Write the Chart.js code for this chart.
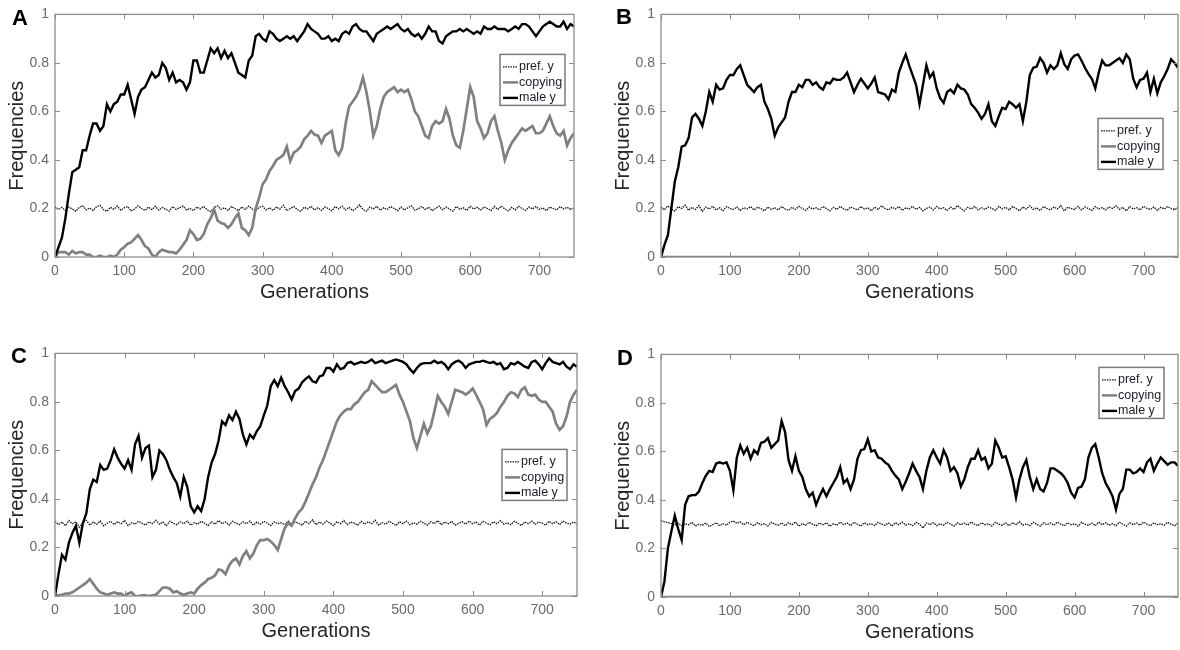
<!DOCTYPE html>
<html>
<head>
<meta charset="utf-8">
<script src="https://cdn.jsdelivr.net/npm/chart.js@4.4.1/dist/chart.umd.min.js"></script>
<style>
html,body{margin:0;padding:0;background:#fff;width:1180px;height:650px;overflow:hidden;position:relative}
canvas.panel{position:absolute}
.letter{position:absolute;font-family:"Liberation Sans",Arial,sans-serif;font-weight:bold;font-size:22px;line-height:1;color:#000}
</style>
</head>
<body>
<canvas id="cA" class="panel" style="left:0px;top:0px" width="578" height="320"></canvas>
<canvas id="cB" class="panel" style="left:606px;top:0px" width="576" height="320"></canvas>
<canvas id="cC" class="panel" style="left:0px;top:339px" width="581" height="320"></canvas>
<canvas id="cD" class="panel" style="left:606px;top:340px" width="576" height="320"></canvas>
<div class="letter" style="left:12px;top:7px">A</div>
<div class="letter" style="left:616px;top:6px">B</div>
<div class="letter" style="left:11px;top:345px">C</div>
<div class="letter" style="left:617px;top:347px">D</div>
<script>
// ---------- data ----------
const GENERATIONS = [
0,5,10,15,20,25,30,35,40,45,
50,55,60,65,70,75,80,85,90,95,
100,105,110,115,120,125,130,135,140,145,
150,155,160,165,170,175,180,185,190,195,
200,205,210,215,220,225,230,235,240,245,
250,255,260,265,270,275,280,285,290,295,
300,305,310,315,320,325,330,335,340,345,
350,355,360,365,370,375,380,385,390,395,
400,405,410,415,420,425,430,435,440,445,
450,455,460,465,470,475,480,485,490,495,
500,505,510,515,520,525,530,535,540,545,
550,555,560,565,570,575,580,585,590,595,
600,605,610,615,620,625,630,635,640,645,
650,655,660,665,670,675,680,685,690,695,
700,705,710,715,720,725,730,735,740,745,
750];
const X_TICKS = [0,100,200,300,400,500,600,700];
const Y_TICKS = [0,0.2,0.4,0.6,0.8,1];
const Y_TICK_LABELS = ['0','0.2','0.4','0.6','0.8','1'];
const SERIES_LABELS = ['pref. y','copying','male y'];

// Panel A
const A_male = [
0,0.04,0.08,0.16,0.26,0.35,0.36,0.37,0.44,0.44,
0.50,0.55,0.55,0.52,0.54,0.63,0.60,0.63,0.64,0.67,
0.67,0.71,0.65,0.59,0.66,0.69,0.70,0.73,0.76,0.74,
0.75,0.80,0.78,0.73,0.76,0.72,0.73,0.72,0.69,0.72,
0.81,0.81,0.76,0.76,0.81,0.86,0.84,0.86,0.82,0.85,
0.82,0.84,0.80,0.76,0.75,0.74,0.81,0.83,0.91,0.92,
0.90,0.89,0.93,0.92,0.90,0.89,0.90,0.91,0.90,0.91,
0.89,0.91,0.93,0.96,0.94,0.93,0.92,0.90,0.90,0.91,
0.89,0.90,0.89,0.92,0.93,0.92,0.95,0.96,0.94,0.93,
0.93,0.91,0.89,0.92,0.93,0.94,0.95,0.94,0.95,0.96,
0.94,0.93,0.94,0.92,0.91,0.92,0.90,0.92,0.95,0.93,
0.93,0.89,0.88,0.91,0.92,0.93,0.93,0.94,0.93,0.94,
0.93,0.92,0.93,0.92,0.95,0.94,0.94,0.95,0.94,0.94,
0.94,0.93,0.94,0.95,0.94,0.96,0.96,0.95,0.93,0.91,
0.93,0.95,0.96,0.97,0.96,0.95,0.95,0.97,0.94,0.96,
0.95];
const A_copying = [
0,0.02,0.02,0.02,0.01,0.025,0.015,0.02,0.02,0.01,
0.01,0,0,0.005,0,0,0.005,0,0.01,0.03,
0.04,0.055,0.06,0.075,0.09,0.07,0.045,0.035,0.01,0,
0.02,0.03,0.025,0.02,0.02,0.015,0.03,0.05,0.07,0.11,
0.095,0.07,0.075,0.095,0.135,0.16,0.195,0.15,0.14,0.135,
0.12,0.135,0.16,0.18,0.12,0.11,0.09,0.12,0.20,0.245,
0.30,0.32,0.355,0.375,0.40,0.41,0.42,0.455,0.395,0.43,
0.44,0.455,0.485,0.50,0.52,0.505,0.50,0.47,0.50,0.51,
0.52,0.44,0.42,0.45,0.55,0.62,0.64,0.66,0.69,0.74,
0.68,0.60,0.50,0.54,0.61,0.66,0.68,0.69,0.70,0.68,
0.69,0.68,0.69,0.65,0.60,0.58,0.54,0.50,0.49,0.54,
0.56,0.55,0.56,0.61,0.57,0.50,0.46,0.45,0.52,0.61,
0.70,0.66,0.56,0.53,0.49,0.51,0.56,0.58,0.52,0.47,
0.40,0.44,0.47,0.49,0.51,0.53,0.52,0.53,0.54,0.51,
0.51,0.52,0.55,0.58,0.54,0.51,0.50,0.52,0.46,0.49,
0.51];
const A_pref = [
0.207,0.196,0.205,0.191,0.206,0.198,0.189,0.204,0.211,0.194,
0.202,0.192,0.207,0.213,0.196,0.188,0.205,0.197,0.21,0.193,
0.203,0.208,0.19,0.198,0.211,0.2,0.192,0.206,0.195,0.209,
0.193,0.204,0.197,0.189,0.208,0.196,0.203,0.21,0.194,0.2,
0.191,0.206,0.198,0.208,0.194,0.187,0.204,0.211,0.196,0.203,
0.192,0.208,0.2,0.191,0.206,0.196,0.21,0.198,0.19,0.205,
0.209,0.194,0.203,0.192,0.206,0.197,0.213,0.191,0.2,0.208,
0.196,0.188,0.205,0.198,0.209,0.194,0.203,0.192,0.206,0.2,
0.19,0.208,0.198,0.21,0.194,0.205,0.191,0.2,0.214,0.196,
0.189,0.206,0.198,0.209,0.193,0.203,0.196,0.208,0.2,0.191,
0.206,0.194,0.203,0.211,0.193,0.198,0.208,0.196,0.205,0.191,
0.2,0.21,0.194,0.206,0.198,0.188,0.208,0.196,0.203,0.192,
0.209,0.198,0.205,0.194,0.206,0.2,0.191,0.208,0.196,0.21,
0.198,0.19,0.205,0.194,0.209,0.2,0.192,0.206,0.198,0.208,
0.196,0.203,0.191,0.206,0.2,0.194,0.208,0.198,0.205,0.196,
0.203];

// Panel B
const B_male = [
0,0.05,0.09,0.20,0.31,0.37,0.455,0.46,0.49,0.575,
0.59,0.57,0.54,0.60,0.68,0.64,0.71,0.69,0.695,0.73,
0.75,0.75,0.775,0.79,0.75,0.71,0.695,0.68,0.70,0.71,
0.64,0.61,0.57,0.50,0.535,0.555,0.575,0.64,0.68,0.68,
0.71,0.70,0.73,0.73,0.71,0.72,0.70,0.69,0.72,0.715,
0.735,0.73,0.73,0.74,0.76,0.72,0.68,0.71,0.735,0.715,
0.695,0.715,0.74,0.68,0.675,0.67,0.65,0.69,0.68,0.76,
0.80,0.835,0.79,0.75,0.71,0.63,0.71,0.79,0.74,0.76,
0.695,0.655,0.635,0.68,0.69,0.675,0.71,0.695,0.69,0.67,
0.63,0.615,0.595,0.57,0.59,0.63,0.56,0.54,0.58,0.615,
0.61,0.64,0.63,0.615,0.63,0.56,0.64,0.75,0.78,0.785,
0.82,0.80,0.76,0.79,0.775,0.79,0.84,0.795,0.775,0.815,
0.83,0.835,0.81,0.78,0.755,0.735,0.695,0.76,0.81,0.79,
0.79,0.80,0.81,0.82,0.80,0.835,0.815,0.735,0.70,0.73,
0.735,0.76,0.68,0.735,0.675,0.72,0.745,0.775,0.815,0.80,
0.78];
const B_copying = [
0,0,0,0,0,0,0,0,0,0,
0,0,0,0,0,0,0,0,0,0,
0,0,0,0,0,0,0,0,0,0,
0,0,0,0,0,0,0,0,0,0,
0,0,0,0,0,0,0,0,0,0,
0,0,0,0,0,0,0,0,0,0,
0,0,0,0,0,0,0,0,0,0,
0,0,0,0,0,0,0,0,0,0,
0,0,0,0,0,0,0,0,0,0,
0,0,0,0,0,0,0,0,0,0,
0,0,0,0,0,0,0,0,0,0,
0,0,0,0,0,0,0,0,0,0,
0,0,0,0,0,0,0,0,0,0,
0,0,0,0,0,0,0,0,0,0,
0,0,0,0,0,0,0,0,0,0,
0];
const B_pref = [
0.206,0.194,0.211,0.198,0.189,0.208,0.2,0.214,0.192,0.205,
0.196,0.212,0.188,0.206,0.198,0.209,0.194,0.203,0.19,0.208,
0.2,0.196,0.206,0.192,0.203,0.198,0.208,0.194,0.205,0.2,
0.19,0.206,0.196,0.203,0.194,0.208,0.198,0.192,0.205,0.196,
0.209,0.2,0.192,0.206,0.198,0.203,0.194,0.208,0.2,0.19,
0.205,0.196,0.209,0.198,0.192,0.206,0.2,0.194,0.208,0.198,
0.203,0.19,0.206,0.196,0.211,0.2,0.194,0.205,0.198,0.208,
0.192,0.203,0.198,0.209,0.196,0.205,0.19,0.2,0.206,0.194,
0.208,0.198,0.203,0.192,0.206,0.196,0.212,0.2,0.19,0.205,
0.198,0.208,0.194,0.203,0.196,0.206,0.2,0.192,0.209,0.198,
0.205,0.194,0.208,0.2,0.19,0.206,0.198,0.211,0.196,0.203,
0.192,0.208,0.2,0.194,0.206,0.198,0.212,0.19,0.205,0.2,
0.196,0.209,0.194,0.206,0.2,0.192,0.208,0.198,0.203,0.194,
0.206,0.2,0.211,0.196,0.205,0.19,0.208,0.198,0.203,0.194,
0.209,0.2,0.196,0.206,0.192,0.205,0.198,0.208,0.2,0.194,
0.205];

// Panel C
const C_male = [
0,0.09,0.17,0.15,0.22,0.26,0.29,0.22,0.30,0.34,
0.44,0.48,0.47,0.54,0.52,0.525,0.56,0.605,0.57,0.545,
0.525,0.56,0.52,0.625,0.66,0.57,0.61,0.62,0.49,0.52,
0.60,0.585,0.56,0.52,0.49,0.465,0.41,0.49,0.45,0.37,
0.345,0.37,0.35,0.40,0.49,0.55,0.585,0.64,0.72,0.705,
0.745,0.725,0.76,0.73,0.665,0.625,0.665,0.65,0.68,0.70,
0.745,0.785,0.865,0.89,0.865,0.90,0.865,0.84,0.81,0.845,
0.855,0.88,0.895,0.905,0.885,0.88,0.905,0.91,0.94,0.94,
0.925,0.955,0.935,0.94,0.96,0.965,0.955,0.96,0.965,0.96,
0.965,0.975,0.96,0.965,0.97,0.96,0.965,0.97,0.975,0.97,
0.965,0.955,0.935,0.92,0.94,0.955,0.96,0.96,0.96,0.97,
0.96,0.965,0.955,0.935,0.955,0.965,0.97,0.96,0.94,0.955,
0.96,0.965,0.965,0.97,0.965,0.96,0.965,0.955,0.96,0.935,
0.94,0.96,0.955,0.965,0.955,0.945,0.94,0.965,0.97,0.955,
0.935,0.96,0.98,0.965,0.96,0.955,0.965,0.945,0.935,0.955,
0.945];
const C_copying = [
0,0.003,0.005,0.01,0.01,0.015,0.025,0.035,0.045,0.055,
0.07,0.05,0.03,0.015,0.01,0.005,0.01,0.015,0.01,0.01,
0,0.01,0.015,0,0,0.003,0.003,0,0.003,0.005,
0.02,0.035,0.035,0.03,0.015,0.02,0.01,0.005,0.01,0.015,
0.01,0.03,0.045,0.055,0.07,0.075,0.085,0.11,0.105,0.09,
0.125,0.145,0.155,0.13,0.165,0.185,0.155,0.175,0.21,0.23,
0.23,0.235,0.225,0.21,0.19,0.235,0.28,0.30,0.29,0.32,
0.345,0.36,0.39,0.425,0.46,0.49,0.53,0.56,0.60,0.64,
0.68,0.72,0.745,0.76,0.77,0.77,0.79,0.80,0.82,0.84,
0.85,0.885,0.87,0.855,0.84,0.84,0.85,0.86,0.87,0.83,
0.80,0.76,0.72,0.65,0.61,0.66,0.71,0.67,0.70,0.76,
0.825,0.80,0.78,0.75,0.80,0.85,0.845,0.84,0.83,0.84,
0.855,0.83,0.80,0.77,0.705,0.73,0.74,0.755,0.78,0.80,
0.825,0.84,0.835,0.82,0.85,0.86,0.83,0.825,0.83,0.81,
0.80,0.80,0.78,0.76,0.71,0.685,0.70,0.74,0.80,0.83,
0.85];
const C_pref = [
0.308,0.294,0.305,0.29,0.311,0.298,0.306,0.283,0.302,0.312,
0.292,0.305,0.296,0.309,0.289,0.3,0.308,0.294,0.306,0.298,
0.311,0.29,0.302,0.296,0.308,0.3,0.292,0.306,0.298,0.312,
0.296,0.305,0.29,0.308,0.3,0.294,0.306,0.298,0.309,0.292,
0.302,0.296,0.308,0.3,0.29,0.306,0.296,0.311,0.298,0.305,
0.292,0.308,0.3,0.294,0.306,0.298,0.309,0.292,0.305,0.296,
0.308,0.3,0.29,0.306,0.298,0.302,0.294,0.309,0.296,0.305,
0.3,0.292,0.308,0.298,0.314,0.294,0.305,0.296,0.309,0.3,
0.29,0.306,0.298,0.311,0.294,0.305,0.3,0.292,0.308,0.296,
0.306,0.298,0.312,0.292,0.302,0.296,0.308,0.3,0.29,0.306,
0.298,0.309,0.294,0.302,0.296,0.308,0.3,0.292,0.306,0.298,
0.311,0.294,0.305,0.298,0.308,0.292,0.3,0.306,0.296,0.309,
0.298,0.305,0.292,0.308,0.3,0.294,0.306,0.298,0.311,0.296,
0.302,0.294,0.308,0.3,0.29,0.306,0.298,0.309,0.296,0.305,
0.3,0.292,0.308,0.298,0.306,0.294,0.309,0.3,0.296,0.305,
0.298];

// Panel D
const D_male = [
0,0.065,0.20,0.27,0.335,0.28,0.235,0.38,0.415,0.42,
0.42,0.435,0.47,0.50,0.52,0.515,0.55,0.555,0.55,0.555,
0.52,0.44,0.575,0.625,0.59,0.615,0.57,0.605,0.59,0.635,
0.64,0.655,0.615,0.63,0.645,0.725,0.68,0.565,0.52,0.58,
0.52,0.495,0.445,0.415,0.43,0.38,0.415,0.445,0.415,0.445,
0.47,0.495,0.535,0.47,0.485,0.445,0.485,0.57,0.605,0.61,
0.65,0.60,0.605,0.575,0.57,0.555,0.545,0.52,0.50,0.485,
0.445,0.475,0.51,0.55,0.52,0.495,0.445,0.52,0.575,0.605,
0.575,0.55,0.605,0.575,0.52,0.535,0.51,0.455,0.485,0.535,
0.57,0.57,0.605,0.565,0.575,0.53,0.55,0.645,0.615,0.575,
0.58,0.535,0.485,0.41,0.485,0.535,0.565,0.495,0.445,0.485,
0.445,0.435,0.47,0.53,0.53,0.52,0.51,0.495,0.47,0.43,
0.41,0.45,0.455,0.485,0.575,0.615,0.63,0.575,0.51,0.47,
0.445,0.415,0.36,0.425,0.445,0.525,0.525,0.51,0.515,0.53,
0.515,0.555,0.57,0.52,0.55,0.575,0.56,0.545,0.555,0.555,
0.54];
const D_copying = [
0,0,0,0,0,0,0,0,0,0,
0,0,0,0,0,0,0,0,0,0,
0,0,0,0,0,0,0,0,0,0,
0,0,0,0,0,0,0,0,0,0,
0,0,0,0,0,0,0,0,0,0,
0,0,0,0,0,0,0,0,0,0,
0,0,0,0,0,0,0,0,0,0,
0,0,0,0,0,0,0,0,0,0,
0,0,0,0,0,0,0,0,0,0,
0,0,0,0,0,0,0,0,0,0,
0,0,0,0,0,0,0,0,0,0,
0,0,0,0,0,0,0,0,0,0,
0,0,0,0,0,0,0,0,0,0,
0,0,0,0,0,0,0,0,0,0,
0,0,0,0,0,0,0,0,0,0,
0];
const D_pref = [
0.315,0.31,0.307,0.303,0.296,0.305,0.294,0.302,0.298,0.308,
0.292,0.3,0.296,0.305,0.29,0.298,0.306,0.294,0.302,0.296,
0.309,0.313,0.304,0.31,0.298,0.308,0.3,0.294,0.306,0.298,
0.302,0.292,0.308,0.3,0.296,0.305,0.294,0.306,0.298,0.309,
0.292,0.302,0.296,0.308,0.3,0.294,0.305,0.298,0.306,0.292,
0.302,0.296,0.309,0.298,0.305,0.294,0.308,0.3,0.292,0.306,
0.298,0.302,0.294,0.308,0.3,0.296,0.305,0.292,0.306,0.298,
0.309,0.296,0.302,0.294,0.308,0.3,0.284,0.305,0.298,0.306,
0.294,0.302,0.296,0.308,0.3,0.292,0.306,0.298,0.305,0.296,
0.309,0.3,0.294,0.306,0.298,0.302,0.292,0.308,0.3,0.296,
0.305,0.294,0.306,0.298,0.311,0.296,0.302,0.294,0.308,0.3,
0.292,0.306,0.298,0.305,0.296,0.309,0.3,0.294,0.306,0.298,
0.302,0.292,0.308,0.3,0.296,0.305,0.294,0.309,0.298,0.306,
0.296,0.302,0.294,0.308,0.3,0.292,0.306,0.298,0.305,0.296,
0.309,0.3,0.294,0.306,0.298,0.302,0.296,0.308,0.3,0.294,
0.305];

// ---------- drawing ----------
const FONT = '"Liberation Sans", Arial, Helvetica, sans-serif';
Chart.defaults.font.family = FONT;

const matlabBox = {
  id: 'matlabBox',
  afterDatasetsDraw(chart) {
    const ctx = chart.ctx, ca = chart.chartArea, xs = chart.scales.x, ys = chart.scales.y;
    ctx.save();
    ctx.strokeStyle = '#8c8c8c';
    ctx.lineWidth = 1.3;
    ctx.strokeRect(ca.left, ca.top, ca.right - ca.left, ca.bottom - ca.top);
    ctx.beginPath();
    xs.ticks.forEach(t => {
      const px = Math.round(xs.getPixelForValue(t.value)) + 0.5;
      ctx.moveTo(px, ca.bottom); ctx.lineTo(px, ca.bottom - 5);
      ctx.moveTo(px, ca.top); ctx.lineTo(px, ca.top + 5);
    });
    ys.ticks.forEach(t => {
      const py = Math.round(ys.getPixelForValue(t.value)) + 0.5;
      ctx.moveTo(ca.left, py); ctx.lineTo(ca.left + 5, py);
      ctx.moveTo(ca.right, py); ctx.lineTo(ca.right - 5, py);
    });
    ctx.lineWidth = 1;
    ctx.stroke();
    ctx.restore();
  }
};

const matlabLegend = {
  id: 'matlabLegend',
  afterDraw(chart, args, opts) {
    const ctx = chart.ctx, ca = chart.chartArea;
    const w = 65, h = 51;
    const x = ca.right - opts.right - w, y = ca.top + opts.top;
    ctx.save();
    ctx.fillStyle = '#ffffff';
    ctx.fillRect(x, y, w, h);
    ctx.strokeStyle = '#7a7a7a';
    ctx.lineWidth = 1.5;
    ctx.strokeRect(x, y, w, h);
    ctx.font = '12.5px ' + FONT;
    ctx.textBaseline = 'middle';
    ctx.textAlign = 'left';
    chart.data.datasets.forEach((ds, i) => {
      const cy = y + 12.5 + i * 15.5;
      ctx.beginPath();
      ctx.setLineDash(ds.borderDash || []);
      ctx.lineWidth = Math.min(ds.borderWidth, 2.5);
      ctx.strokeStyle = ds.borderColor;
      ctx.moveTo(x + 3, cy); ctx.lineTo(x + 18, cy);
      ctx.stroke();
      ctx.setLineDash([]);
      ctx.fillStyle = '#1c1c28';
      ctx.fillText(ds.label, x + 19, cy);
    });
    ctx.restore();
  }
};

function makePanel(id, pref, copying, male, legendRight, legendTop) {
  return new Chart(document.getElementById(id), {
    type: 'line',
    data: {
      labels: GENERATIONS,
      datasets: [
        { label: SERIES_LABELS[0], data: pref, borderColor: '#141414', borderWidth: 1.3, borderDash: [1.5, 1], pointRadius: 0, order: 2, tension: 0 },
        { label: SERIES_LABELS[1], data: copying, borderColor: '#808080', borderWidth: 2.7, pointRadius: 0, order: 1, tension: 0 },
        { label: SERIES_LABELS[2], data: male, borderColor: '#000000', borderWidth: 2.4, pointRadius: 0, order: 0, tension: 0 }
      ]
    },
    options: {
      responsive: false,
      animation: false,
      devicePixelRatio: 1,
      layout: { padding: { left: 0, top: 8, right: 4, bottom: 0 } },
      plugins: {
        legend: { display: false },
        tooltip: { enabled: false },
        matlabLegend: { right: legendRight, top: legendTop }
      },
      scales: {
        x: {
          type: 'linear', min: 0, max: 750,
          afterFit(s) { s.height = 63; },
          afterBuildTicks(s) { s.ticks = X_TICKS.map(v => ({ value: v })); },
          ticks: { stepSize: 100, padding: 6, color: '#6a6a6a', font: { size: 14 }, maxRotation: 0, autoSkip: false,
                   callback: (v) => String(v) },
          grid: { display: false, drawTicks: false },
          border: { display: false },
          title: { display: true, text: 'Generations', color: '#262626', font: { size: 20 }, padding: { top: 0, bottom: 16 } }
        },
        y: {
          min: 0, max: 1,
          afterFit(s) { s.width = 55; },
          afterBuildTicks(s) { s.ticks = Y_TICKS.map(v => ({ value: v })); },
          ticks: { stepSize: 0.2, padding: 6, color: '#6a6a6a', font: { size: 14 },
                   callback: (v, i) => Y_TICK_LABELS[i] },
          grid: { display: false, drawTicks: false },
          border: { display: false },
          title: { display: true, text: 'Frequencies', color: '#262626', font: { size: 20 }, padding: { top: 5.5, bottom: 0 } }
        }
      }
    },
    plugins: [matlabBox, matlabLegend]
  });
}

makePanel('cA', A_pref, A_copying, A_male, 9, 40);
makePanel('cB', B_pref, B_copying, B_male, 15, 104);
makePanel('cC', C_pref, C_copying, C_male, 10, 96);
makePanel('cD', D_pref, D_copying, D_male, 14, 13);
</script>
</body>
</html>
